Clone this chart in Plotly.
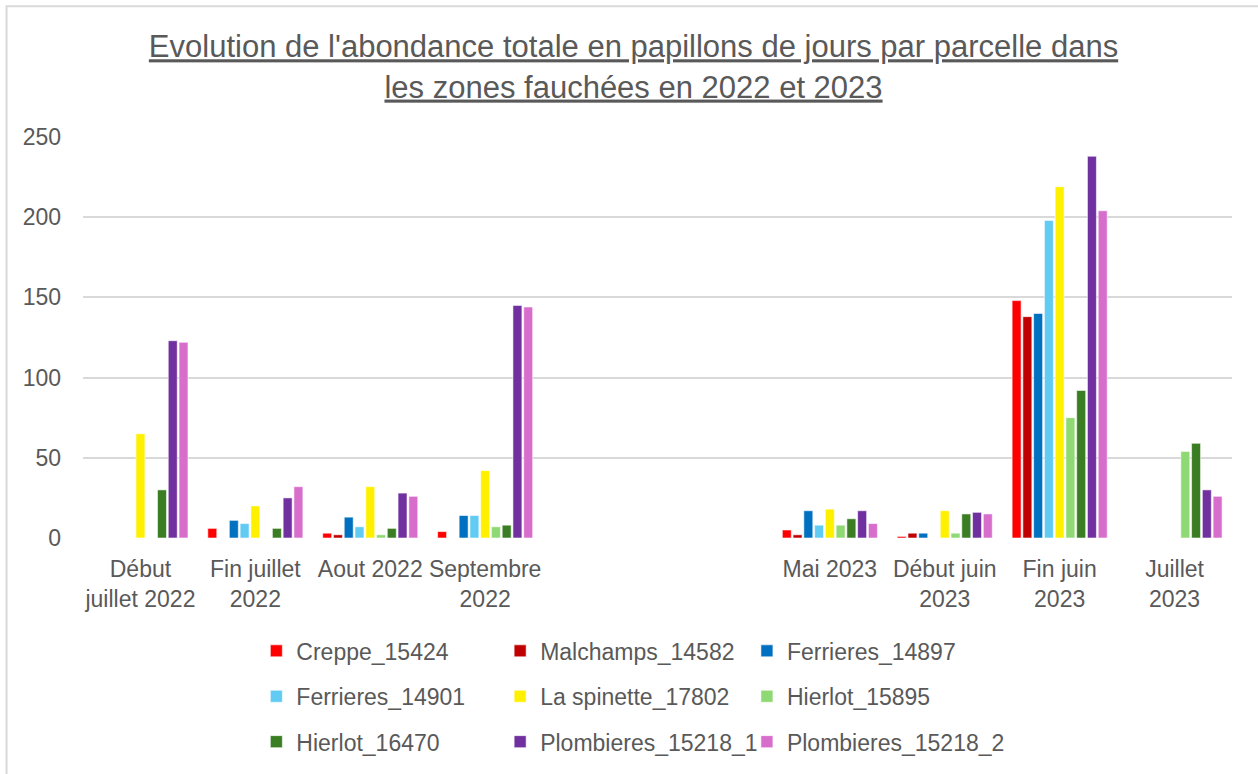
import plotly.graph_objects as go

categories = ["Début<br>juillet 2022", "Fin juillet<br>2022", "Aout 2022", "Septembre<br>2022",
              "", "", "Mai 2023", "Début juin<br>2023", "Fin juin<br>2023", "Juillet<br>2023"]

series_names = ["Creppe_15424", "Malchamps_14582", "Ferrieres_14897",
                "Ferrieres_14901", "La spinette_17802", "Hierlot_15895",
                "Hierlot_16470", "Plombieres_15218_1", "Plombieres_15218_2"]

creppe_15424 = [0, 6, 3, 4, 0, 0, 5, 1, 148, 0]
malchamps_14582 = [0, 0, 2, 0, 0, 0, 2, 3, 138, 0]
ferrieres_14897 = [0, 11, 13, 14, 0, 0, 17, 3, 140, 0]
ferrieres_14901 = [0, 9, 7, 14, 0, 0, 8, 0, 198, 0]
la_spinette_17802 = [65, 20, 32, 42, 0, 0, 18, 17, 219, 0]
hierlot_15895 = [0, 0, 2, 7, 0, 0, 8, 3, 75, 54]
hierlot_16470 = [30, 6, 6, 8, 0, 0, 12, 15, 92, 59]
plombieres_15218_1 = [123, 25, 28, 145, 0, 0, 17, 16, 238, 30]
plombieres_15218_2 = [122, 32, 26, 144, 0, 0, 9, 15, 204, 26]

values = [creppe_15424, malchamps_14582, ferrieres_14897, ferrieres_14901,
          la_spinette_17802, hierlot_15895, hierlot_16470,
          plombieres_15218_1, plombieres_15218_2]

colors = ["#FF0000", "#C00000", "#0070C0", "#61CBF3", "#FFF000",
          "#8ED973", "#3A7D22", "#7030A0", "#D86ECC"]

# legend column for each series (3 columns x 3 rows, row-major order)
legend_ids = ["legend", "legend2", "legend3"] * 3

y_ticks = [0, 50, 100, 150, 200, 250]

FONT = "Liberation Sans"
GREY = "#595959"

x_pos = list(range(len(categories)))

fig = go.Figure()
for name, vals, col, lg in zip(series_names, values, colors, legend_ids):
    fig.add_trace(go.Bar(
        x=x_pos, y=vals, name=name,
        marker=dict(color=col, line=dict(width=0.8, color="rgba(255,255,255,0.7)")),
        legend=lg, legendgroup=name,
    ))

# plot-area geometry in pixels, used to place outer frame and legends
L, R, T, B = 82.5, 1232.5, 137, 538.5
W, H = R - L, B - T
def px_x(p):
    return (p - L) / W
def px_y(q):
    return (B - q) / H

legend_common = dict(
    orientation="v", xanchor="left", yanchor="top",
    font=dict(family=FONT, size=23, color=GREY),
    bgcolor="rgba(0,0,0,0)", traceorder="grouped", tracegroupgap=12.5,
    itemclick=False, itemdoubleclick=False,
)

fig.update_layout(
    width=1258, height=774,
    margin=dict(l=L, r=1258 - R, t=T, b=774 - B, autoexpand=False),
    paper_bgcolor="white", plot_bgcolor="white",
    barmode="group", bargap=0.157, bargroupgap=0.167,
    title=dict(
        text="<u>Evolution de l'abondance totale en papillons de jours par parcelle dans</u><br>"
             "<u>les zones fauchées en 2022 et 2023</u>",
        x=0.5036, xanchor="center", y=0.926, yanchor="top",
        font=dict(family=FONT, size=31, color=GREY),
    ),
    font=dict(family=FONT, color=GREY),
    xaxis=dict(
        tickmode="array", tickvals=x_pos, ticktext=categories,
        range=[-0.5, len(categories) - 0.5],
        showgrid=False, showline=False, zeroline=False, ticks="",
        tickfont=dict(family=FONT, size=23, color=GREY),
        tickangle=0, fixedrange=True, ticklabelstandoff=15,
    ),
    yaxis=dict(
        range=[0, 250], tickvals=y_ticks,
        showgrid=True, gridcolor="#D9D9D9", gridwidth=1.5,
        zeroline=False, showline=False, ticks="",
        tickfont=dict(family=FONT, size=23, color=GREY),
        ticklabelstandoff=21, fixedrange=True,
    ),
    legend=dict(x=px_x(256), y=px_y(630), **legend_common),
    legend2=dict(x=px_x(500), y=px_y(630), **legend_common),
    legend3=dict(x=px_x(747), y=px_y(630), **legend_common),
    showlegend=True,
)

# outer chart frame
fig.add_shape(type="rect", xref="paper", yref="paper",
              x0=px_x(6), x1=px_x(1265), y0=px_y(785), y1=px_y(6),
              line=dict(color="#D9D9D9", width=2), fillcolor="rgba(0,0,0,0)",
              layer="below")

fig.write_html("out.html", config={"displayModeBar": False},
               post_script="document.body.style.margin='0';")
